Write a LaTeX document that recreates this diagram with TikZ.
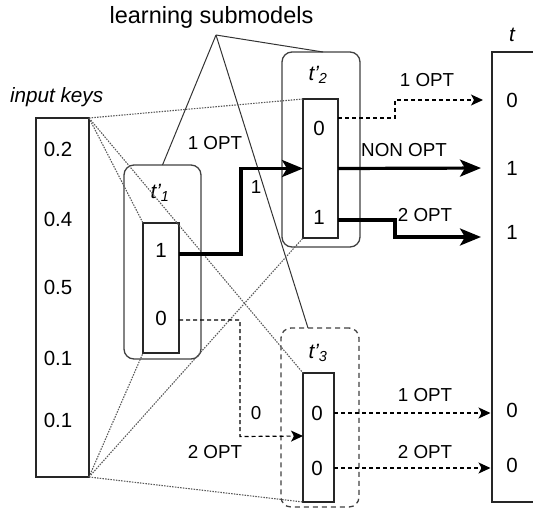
\documentclass[tikz,border=0pt]{standalone}
\usepackage{fontspec}
\setmainfont{Liberation Sans}
\usetikzlibrary{arrows.meta,calc}

\begin{document}
\begin{tikzpicture}[x=1pt,y=-1pt,
  every node/.style={inner sep=0pt,outer sep=0pt},
  val/.style={font=\fontsize{20.5}{24}\selectfont},
  lbl/.style={font=\fontsize{18.8}{22}\selectfont},
  ttl/.style={font=\fontsize{20.7}{24}\selectfont\itshape},
  cellbox/.style={draw=black!85,line width=1.3pt},
  group/.style={draw=black!75,line width=1.3pt,rounded corners=10pt},
  dgroup/.style={group,dash pattern=on 5pt off 4pt},
  guide/.style={draw=black!80,line width=1pt},
  dots/.style={draw=black!65,line width=1.1pt,dash pattern=on 1.5pt off 1.2pt},
  boldarrow/.style={line width=3.2pt,-{Stealth[length=21pt,width=17pt,inset=5pt]}},
  optarrow/.style={line width=1.2pt,dash pattern=on 4pt off 3pt,-{Stealth[length=12pt,width=11pt,inset=3pt]}},
]
\useasboundingbox (0,0) rectangle (533,509);
\begin{scope}
\clip (0,0) rectangle (533,509);

% titles
\node[font=\fontsize{23.5}{28}\selectfont] (ls) at (211.5,17) {learning submodels};
\coordinate (apex) at (216,35);
\node[ttl,anchor=west] (ik) at (10,97) {input keys};
\node[ttl] (tt) at (512,35) {t};

% group frames of the submodels
\node[group,minimum width=77pt,minimum height=194pt] (t1) at (162.5,262) {};
\node[group,minimum width=78pt,minimum height=195pt] (t2) at (321,149.5) {};
\node[dgroup,minimum width=78pt,minimum height=179pt] (t3) at (320,417.5) {};

% input keys column
\node[cellbox,minimum width=53pt,minimum height=359pt] (in) at (62.5,297.5) {};
\node[val] (k1) at (58,149) {0.2};
\node[val] (k2) at (58,219) {0.4};
\node[val] (k3) at (58,287) {0.5};
\node[val] (k4) at (58,358) {0.1};
\node[val] (k5) at (58,420) {0.1};

% submodel columns
\node[cellbox,fill=white,minimum width=36pt,minimum height=130pt] (t1in) at (161,288) {};
\node[cellbox,fill=white,minimum width=35pt,minimum height=139pt] (t2in) at (320.5,168.5) {};
\node[cellbox,fill=white,minimum width=31pt,minimum height=129pt] (t3in) at (318.5,437.5) {};
\node[ttl] (t1n) at (160,193) {t'\textsubscript{1}};
\node[ttl] (t2n) at (318,75) {t'\textsubscript{2}};
\node[ttl] (t3n) at (318,353) {t'\textsubscript{3}};
\node[val] (a1) at (161,250) {1};
\node[val] (a0) at (161,318) {0};
\node[val] (b0) at (319,128) {0};
\node[val] (b1) at (319,217) {1};
\node[val] (c0) at (317,413) {0};
\node[val] (c1) at (317,468) {0};

% target column
\draw[cellbox] (560,52) -| (492,502) -- (560,502);
\coordinate (tl) at (492,52);
\node[val] (v1) at (512,100) {0};
\node[val] (v2) at (512,168) {1};
\node[val] (v3) at (512,232) {1};
\node[val] (v4) at (512,410) {0};
\node[val] (v5) at (512,465) {0};

% guide lines from the title
\draw[guide] (apex) -- (t1.north);
\draw[guide] (apex) -- ([xshift=2pt]t2.north);
\draw[guide] (apex) -- ([xshift=-12pt]t3.north);

% key ranges spanned by each submodel
\draw[dots] (in.north east) -- (t2in.north west);
\draw[dots] (in.north east) -- (t1in.north west);
\draw[dots] (in.north east) -- (t3in.north west);
\draw[dots] (in.south east) -- (t1in.south west);
\draw[dots] (in.south east) -- (t2in.south west);
\draw[dots] (in.south east) -- (t3in.south west);

% routing from t'1
\draw[boldarrow] ($(t1in.east)+(0,-34)$) -| ($(t1in.east)+(62,-119.5)$) -- (t2in.west);
\node[lbl] (l1) at (215,143) {1 OPT};
\node[lbl] (l2) at (256,187) {1};
\draw[optarrow] ($(t1in.east)+(0,32)$) -| ($(t1in.east)+(61,148.5)$) -- ($(t3in.west)+(0,-1.5)$);
\node[lbl] (l3) at (256,413) {0};
\node[lbl] (l4) at (215,452) {2 OPT};

% routing from t'2
\draw[optarrow,shorten >=9pt] ($(t2in.east)+(0,-50.5)$) -| ($(t2in.east)+(57,-68.5)$) -- (tl |- v1);
\node[lbl] (l5) at (427,80) {1 OPT};
\draw[boldarrow,shorten >=11pt] (t2in.east) -- (tl |- v2);
\node[lbl] (l6) at (404,150) {NON OPT};
\draw[boldarrow,shorten >=11pt] ($(t2in.east)+(0,51.5)$) -| ($(t2in.east)+(57,68.5)$) -- ($(tl |- v3)+(0,5)$);
\node[lbl] (l7) at (425,215) {2 OPT};

% routing from t'3
\draw[optarrow,shorten >=1.5pt] ($(t3in.east)+(0,-24.5)$) -- ($(tl |- v4)+(0,3)$);
\node[lbl] (l8) at (425,395) {1 OPT};
\draw[optarrow,shorten >=1.5pt] ($(t3in.east)+(0,30.5)$) -- ($(tl |- v5)+(0,3)$);
\node[lbl] (l9) at (425,452) {2 OPT};
\end{scope}
\end{tikzpicture}
\end{document}
